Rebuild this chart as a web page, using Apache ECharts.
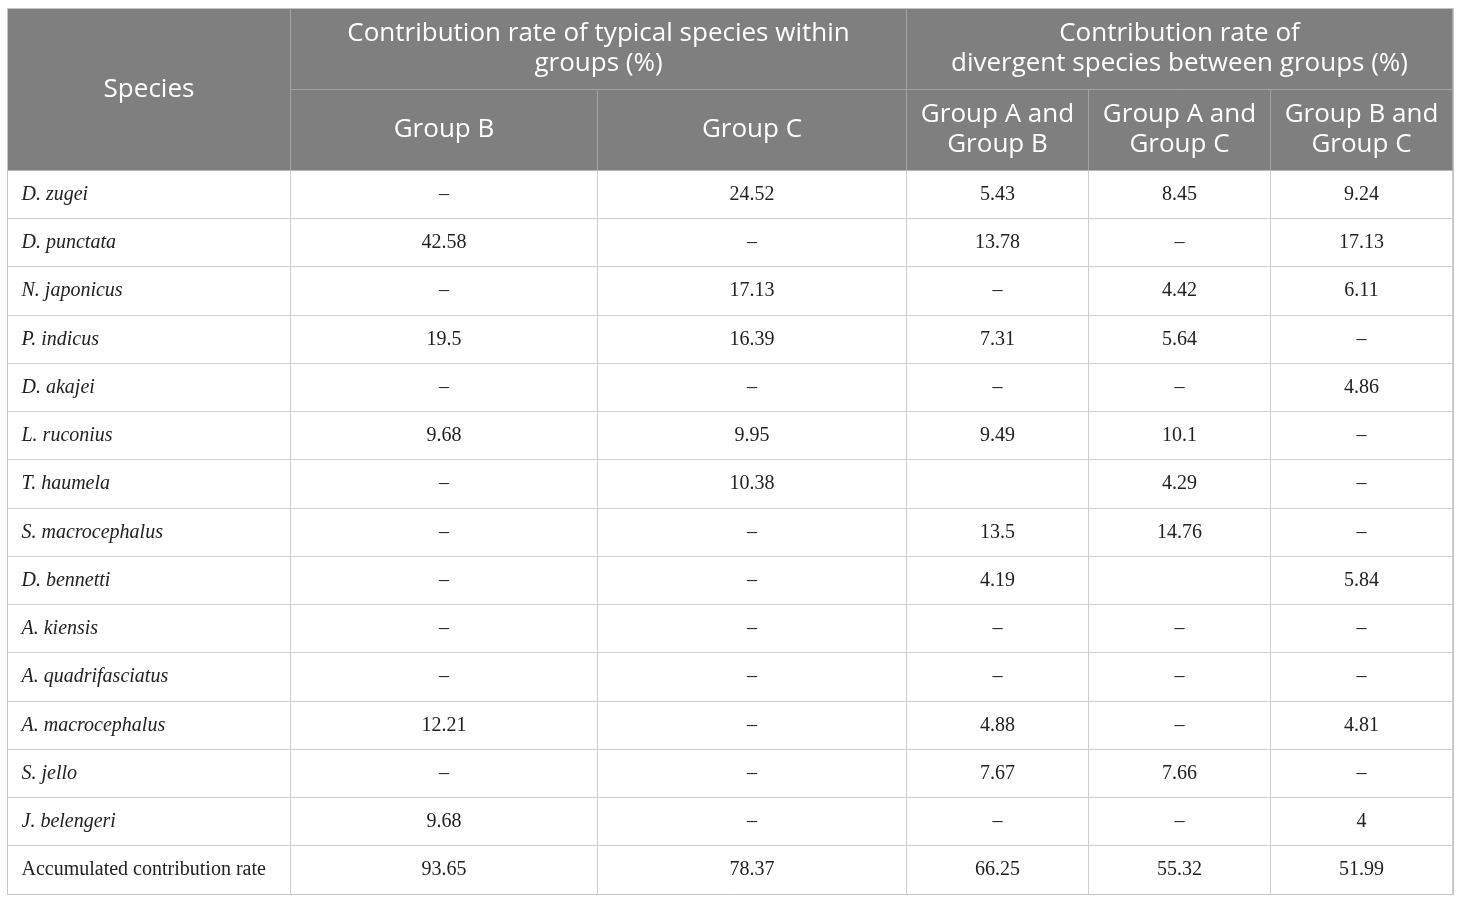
<!DOCTYPE html>
<html>
<head>
<meta charset="utf-8">
<title>Contribution rates of species</title>
<script src="https://cdn.jsdelivr.net/npm/echarts@6/dist/echarts.min.js"></script>
<style>
  html, body { margin: 0; padding: 0; background: #fff; }
  #table { width: 1460px; height: 902px; }
</style>
</head>
<body>
<div id="table"></div>
<script>
// ---------------- data ----------------
const species = ['D. zugei', 'D. punctata', 'N. japonicus', 'P. indicus', 'D. akajei', 'L. ruconius',
  'T. haumela', 'S. macrocephalus', 'D. bennetti', 'A. kiensis', 'A. quadrifasciatus',
  'A. macrocephalus', 'S. jello', 'J. belengeri', 'Accumulated contribution rate'];

// null = "–" in the table, '' = empty cell
const withinB = [null, 42.58, null, 19.5, null, 9.68, null, null, null, null, null, 12.21, null, 9.68, 93.65];
const withinC = [24.52, null, 17.13, 16.39, null, 9.95, 10.38, null, null, null, null, null, null, null, 78.37];
const betweenAB = [5.43, 13.78, null, 7.31, null, 9.49, '', 13.5, 4.19, null, null, 4.88, 7.67, null, 66.25];
const betweenAC = [8.45, null, 4.42, 5.64, null, 10.1, 4.29, 14.76, '', null, null, null, 7.66, null, 55.32];
const betweenBC = [9.24, 17.13, 6.11, null, 4.86, null, null, null, 5.84, null, null, 4.81, null, 4, 51.99];

const groupHeaders = ['Contribution rate of typical species within\ngroups (%)',
  'Contribution rate of\ndivergent species between groups (%)'];
const columnHeaders = ['Group B', 'Group C', 'Group A and\nGroup B', 'Group A and\nGroup C', 'Group B and\nGroup C'];
const valueColumns = [withinB, withinC, betweenAB, betweenAC, betweenBC];

// ---------------- layout ----------------
const colWidths = [283, 307, 309, 182, 182, 182];

function fmt(v) {
  if (v === null) return '–';
  return String(v);
}

// body cells: first column = species names, then the values
let cells = [];
species.forEach(function (name, r) {
  let last = r === species.length - 1;
  cells.push({
    coord: [0, r],
    value: name,
    label: {
      position: 'insideLeft',
      distance: 11,
      align: 'left',
      overflow: 'none',
      fontStyle: last ? 'normal' : 'italic'
    }
  });
  valueColumns.forEach(function (col, c) {
    cells.push({ coord: [c + 1, r], value: fmt(col[r]) });
  });
});

let myChart = echarts.init(document.querySelector('#table'));
let option = {
  matrix: {
    left: 7,
    right: 7,
    top: 8,
    bottom: 8,
    backgroundStyle: {
      color: '#fff',
      borderColor: '#c4c4c4',
      borderWidth: 1
    },
    x: {
      data: [
        { value: 'Species', size: colWidths[0] },
        {
          value: groupHeaders[0],
          children: [
            { value: columnHeaders[0], size: colWidths[1] },
            { value: columnHeaders[1], size: colWidths[2] }
          ]
        },
        {
          value: groupHeaders[1],
          children: [
            { value: columnHeaders[2], size: colWidths[3] },
            { value: columnHeaders[3], size: colWidths[4] },
            { value: columnHeaders[4], size: colWidths[5] }
          ]
        }
      ],
      levels: [{ levelSize: 81 }, { levelSize: 81 }],
      label: {
        color: '#fff',
        fontFamily: '"Open Sans", sans-serif',
        fontSize: 26,
        lineHeight: 30
      },
      itemStyle: {
        color: '#7f7f7f',
        borderColor: '#a3a3a3',
        borderWidth: 1
      }
    },
    y: {
      show: false,
      data: species.map(function (s, i) { return String(i); })
    },
    body: {
      data: cells,
      label: {
        color: '#222',
        fontFamily: '"Liberation Serif", serif',
        fontSize: 20
      },
      itemStyle: {
        color: '#fff',
        borderColor: '#cfcfcf',
        borderWidth: 1
      }
    }
  }
};
myChart.setOption(option);
</script>
</body>
</html>
